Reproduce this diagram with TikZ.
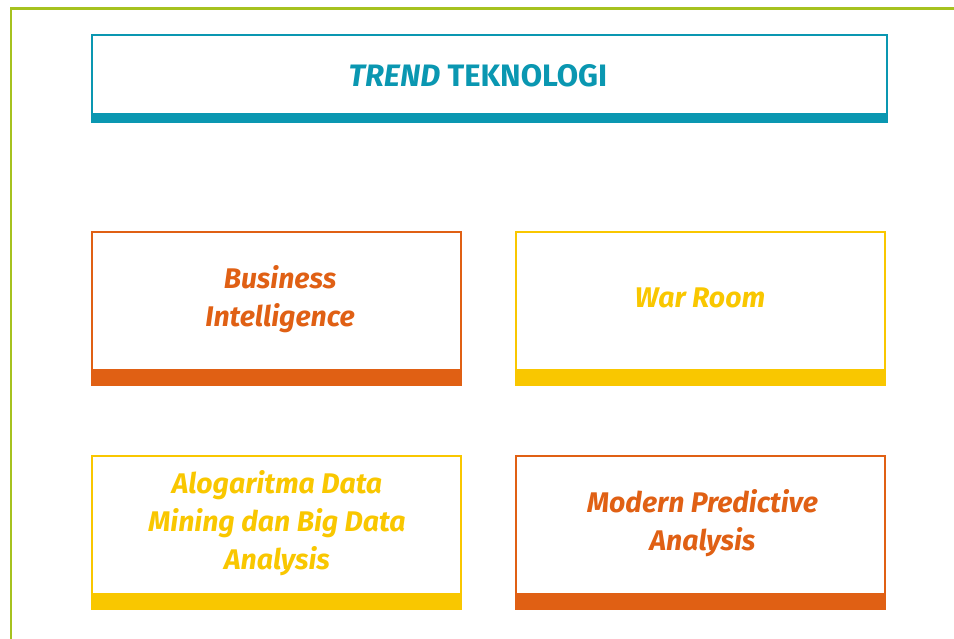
\documentclass[tikz,border=0pt]{standalone}
\usepackage{fontspec}
\setmainfont{Fira Sans}
\definecolor{teal}{HTML}{0A97B1}
\definecolor{orng}{HTML}{E06014}
\definecolor{yell}{HTML}{F9C700}
\definecolor{lime}{HTML}{A6C21F}
\begin{document}
\begin{tikzpicture}[x=1pt,y=-1pt,
  card/.style={draw=#1, line width=2pt, fill=white, inner sep=0pt, minimum width=369pt, minimum height=153pt},
  lbl/.style={text=#1, font=\fontsize{28.4}{38}\selectfont\bfseries\itshape, align=center, inner sep=0pt}
]
\useasboundingbox (0,0) rectangle (954,638);
% frame
\draw[lime, line width=2.5pt] (11,660) -- (11,8.5) -- (970,8.5);
% title
\node[draw=teal, line width=2pt, fill=white, inner sep=0pt, minimum width=795pt, minimum height=87pt] (title) at (489.5,78.5) {};
\fill[teal] (title.south west) rectangle ([yshift=10pt]title.south east);
\node[text=teal, font=\fontsize{31}{36}\selectfont\bfseries, inner sep=0pt] (tt) at (478,76) {\itshape TREND\upshape{} TEKNOLOGI};
% cards
\node[card=orng] (bi) at (276.5,308.5) {};
\fill[orng] (bi.south west) rectangle ([yshift=17pt]bi.south east);
\node[card=yell] (wr) at (700.5,308.5) {};
\fill[yell] (wr.south west) rectangle ([yshift=17pt]wr.south east);
\node[card=yell] (dm) at (276.5,532.5) {};
\fill[yell] (dm.south west) rectangle ([yshift=17pt]dm.south east);
\node[card=orng] (pa) at (700.5,532.5) {};
\fill[orng] (pa.south west) rectangle ([yshift=17pt]pa.south east);
% labels
\node[lbl=orng] (bit) at (280,299) {Business\\Intelligence};
\node[lbl=yell] (wrt) at (700,298) {War Room};
\node[lbl=yell] (dmt) at (277,523) {Alogaritma Data\\Mining dan Big Data\\Analysis};
\node[lbl=orng] (pat) at (702.5,523) {Modern Predictive\\Analysis};
\end{tikzpicture}
\end{document}
